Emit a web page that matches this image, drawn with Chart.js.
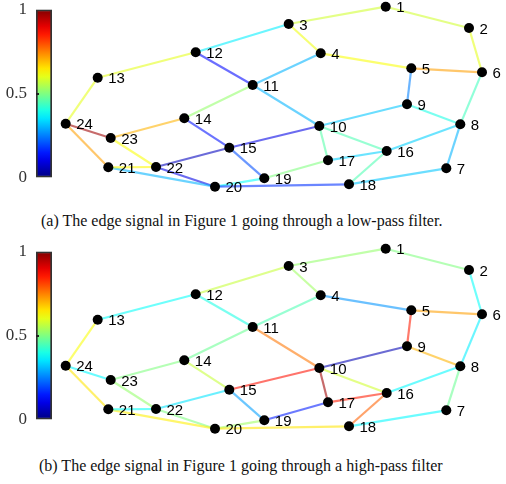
<!DOCTYPE html>
<html>
<head>
<meta charset="utf-8">
<script src="https://cdn.jsdelivr.net/npm/chart.js@4.4.1/dist/chart.umd.min.js"></script>
<style>
    body { margin: 0; background: #fff; }
    #page { position: relative; width: 506px; height: 484px; overflow: hidden; }
    .panel { position: absolute; left: 0; width: 506px; height: 200px; }
    .graph { position: absolute; left: 0; top: 0; }
    .cbar { position: absolute; left: 0; top: -8px; }
    .caption {
        position: absolute;
        font-family: 'Liberation Serif', 'Times New Roman', serif;
        font-size: 16px;
        line-height: 20px;
        color: #111;
        white-space: nowrap;
    }
</style>
</head>
<body>
<div id="page">
    <div class="panel" style="top:0px">
        <canvas class="graph" id="graphA" width="506" height="200"></canvas>
        <canvas class="cbar" id="cbarA" width="60" height="203"></canvas>
    </div>
    <div class="caption" id="captionA" style="left:41px; top:211px"></div>
    <div class="panel" style="top:242px">
        <canvas class="graph" id="graphB" width="506" height="200"></canvas>
        <canvas class="cbar" id="cbarB" width="60" height="203"></canvas>
    </div>
    <div class="caption" id="captionB" style="left:39px; top:456px"></div>
</div>
<script>
// graph layout (nodes 1..24)
const nodeX = [3.857, 4.69, 2.887, 3.207, 4.113, 4.82, 4.463, 4.603, 4.07, 3.193, 2.527, 1.957,
               0.977, 1.843, 2.293, 3.867, 3.28, 3.49, 2.643, 2.15, 1.083, 1.56, 1.107, 0.657];
const nodeY = [1.833, 1.62, 1.66, 1.367, 1.217, 1.177, 0.217, 0.657, 0.857, 0.64, 1.05, 1.377,
               1.123, 0.717, 0.423, 0.39, 0.297, 0.057, 0.117, 0.033, 0.227, 0.23, 0.52, 0.663];

// edges
const edgeFrom = [1, 1, 2, 3, 3, 4, 4, 5, 5, 6, 9, 9, 8, 8, 7, 10, 10, 10, 10,
                  17, 16, 17, 18, 19, 19, 12, 12, 13, 24, 24, 23, 23, 14, 14, 15, 21, 21, 22];
const edgeTo   = [3, 2, 6, 12, 4, 5, 11, 6, 9, 8, 8, 10, 16, 7, 18, 11, 16, 17, 15,
                  16, 18, 19, 20, 15, 20, 13, 11, 24, 23, 21, 14, 22, 11, 15, 22, 22, 20, 20];

// edge signal values (colour scale 0..1)
const lowPass  = [0.58, 0.58, 0.6, 0.36, 0.61, 0.62, 0.3, 0.72, 0.25, 0.44, 0.4, 0.32, 0.33, 0.3, 0.32, 0.3, 0.45, 0.46, 0.1,
                  0.33, 0.45, 0.5, 0.17, 0.2, 0.38, 0.6, 0.13, 0.6, 0.97, 0.72, 0.7, 0.62, 0.52, 0.14, 0.06, 0.63, 0.3, 0.1];
const highPass = [0.52, 0.5, 0.38, 0.57, 0.53, 0.27, 0.45, 0.72, 0.85, 0.36, 0.7, 0.05, 0.37, 0.48, 0.37, 0.76, 0.58, 0.97, 0.86,
                  0.85, 0.78, 0.15, 0.65, 0.28, 0.53, 0.38, 0.4, 0.62, 0.37, 0.65, 0.5, 0.52, 0.48, 0.57, 0.35, 0.38, 0.64, 0.5];

const cbTicks = [0, 0.5, 1];

const captionA = '(a) The edge signal in Figure 1 going through a low-pass filter.';
const captionB = '(b) The edge signal in Figure 1 going through a high-pass filter';

function clamp(v) {
    return Math.max(0, Math.min(1, v));
}

function jet(v, alpha) {
    const r = clamp(1.5 - Math.abs(4 * v - 3));
    const g = clamp(1.5 - Math.abs(4 * v - 2));
    const b = clamp(1.5 - Math.abs(4 * v - 1));
    return `rgba(${Math.round(r * 255)}, ${Math.round(g * 255)}, ${Math.round(b * 255)}, ${alpha})`;
}

const nodeLabels = {
    id: 'nodeLabels',
    afterDatasetsDraw(chart) {
        const ctx = chart.ctx;
        const meta = chart.getDatasetMeta(chart.data.datasets.length - 1);
        ctx.save();
        ctx.font = '15px "Liberation Sans", Arial, sans-serif';
        ctx.fillStyle = '#000';
        ctx.textBaseline = 'middle';
        ctx.textAlign = 'left';
        meta.data.forEach((pt, i) => {
            ctx.fillText(String(i + 1), pt.x + 10.5, pt.y + 1.5);
        });
        ctx.restore();
    }
};

// small inward tick on the colour bar at the middle value
const cbTickMarks = {
    id: 'cbTickMarks',
    afterDatasetsDraw(chart) {
        const ctx = chart.ctx;
        const y = chart.scales.y;
        const area = chart.chartArea;
        ctx.save();
        ctx.fillStyle = '#222';
        cbTicks.slice(1, -1).forEach(v => {
            ctx.fillRect(area.left, Math.round(y.getPixelForValue(v)) - 1, 3, 2);
        });
        ctx.restore();
    }
};

function buildGraph(canvasId, values) {
    const datasets = edgeFrom.map((a, i) => {
        const b = edgeTo[i];
        return {
            data: [{ x: nodeX[a - 1], y: nodeY[a - 1] }, { x: nodeX[b - 1], y: nodeY[b - 1] }],
            showLine: true,
            borderColor: jet(values[i], 0.58),
            borderWidth: 2.2,
            pointRadius: 0,
            order: 1
        };
    });
    datasets.push({
        data: nodeX.map((x, i) => ({ x, y: nodeY[i] })),
        pointRadius: 5,
        pointBackgroundColor: '#000',
        pointBorderWidth: 0,
        showLine: false,
        order: 0
    });

    return new Chart(document.getElementById(canvasId), {
        type: 'scatter',
        data: { datasets },
        options: {
            responsive: false,
            animation: false,
            layout: { padding: 0, autoPadding: false },
            plugins: { legend: { display: false }, tooltip: { enabled: false } },
            scales: {
                x: { display: false, min: 0, max: 5.06 },
                y: { display: false, min: -0.1, max: 1.9 }
            }
        },
        plugins: [nodeLabels]
    });
}

function buildColorbar(canvasId) {
    return new Chart(document.getElementById(canvasId), {
        type: 'bar',
        data: {
            labels: [''],
            datasets: [{
                data: [[cbTicks[0], cbTicks[cbTicks.length - 1]]],
                backgroundColor: (context) => {
                    const area = context.chart.chartArea;
                    if (!area) return '#888';
                    const g = context.chart.ctx.createLinearGradient(0, area.bottom, 0, area.top);
                    for (let s = 0; s <= 20; s++) {
                        g.addColorStop(s / 20, jet(s / 20, 1));
                    }
                    return g;
                },
                borderColor: '#333',
                borderWidth: 2,
                borderSkipped: false,
                categoryPercentage: 1,
                barPercentage: 1
            }]
        },
        options: {
            responsive: false,
            animation: false,
            layout: { padding: { top: 0, bottom: 0, right: 8, left: 0 }, autoPadding: false },
            plugins: { legend: { display: false }, tooltip: { enabled: false } },
            scales: {
                x: { display: false },
                y: {
                    min: 0,
                    max: 1,
                    position: 'left',
                    afterBuildTicks: (scale) => {
                        scale.ticks = cbTicks.map(v => ({ value: v }));
                    },
                    afterFit: (scale) => { scale.width = 36; },
                    grid: { display: false, drawTicks: false },
                    border: { display: false },
                    ticks: {
                        padding: 9,
                        color: '#333',
                        font: { family: "'Liberation Serif', 'Times New Roman', serif", size: 17, lineHeight: 1 },
                        callback: (v) => String(v)
                    }
                }
            }
        },
        plugins: [cbTickMarks]
    });
}

buildGraph('graphA', lowPass);
buildColorbar('cbarA');
buildGraph('graphB', highPass);
buildColorbar('cbarB');
document.getElementById('captionA').textContent = captionA;
document.getElementById('captionB').textContent = captionB;
</script>
</body>
</html>
